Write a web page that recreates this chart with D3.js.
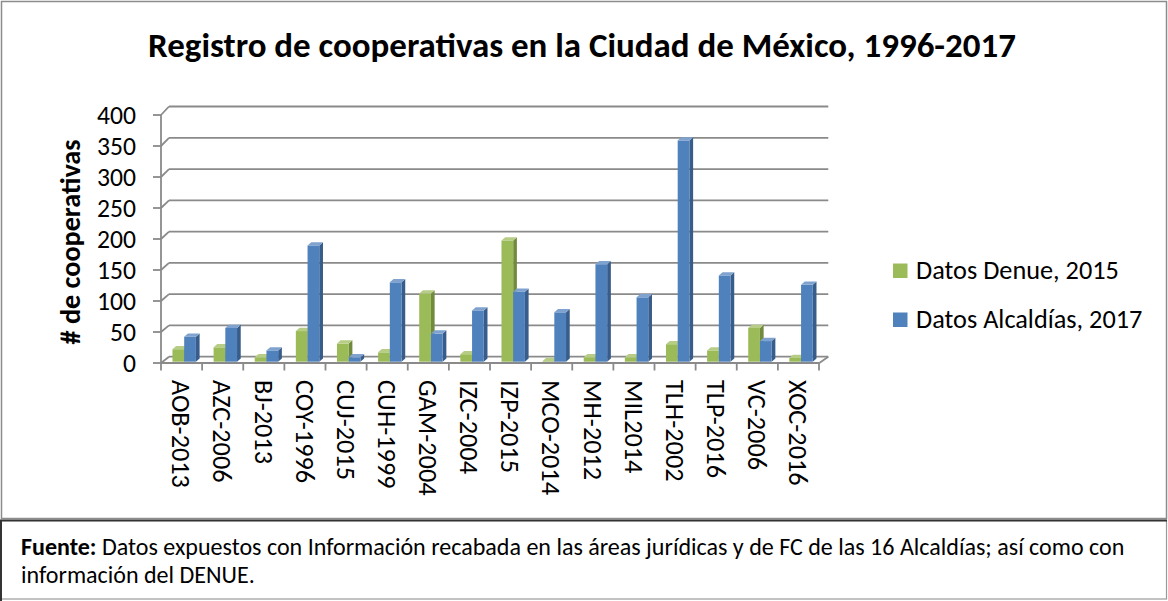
<!DOCTYPE html>
<html>
<head>
<meta charset="utf-8">
<script src="https://cdn.jsdelivr.net/npm/d3@7"></script>
<style>
  body { margin: 0; background: #fff; }
  svg { display: block; font-family: Carlito, Calibri, Lato, sans-serif; }
</style>
</head>
<body>
<svg id="chart" width="1168" height="601"></svg>
<script>
// ---------------------------------------------------------------
// data
// ---------------------------------------------------------------
const categories = ["AOB-2013", "AZC-2006", "BJ-2013", "COY-1996", "CUJ-2015", "CUH-1999",
  "GAM-2004", "IZC-2004", "IZP-2015", "MCO-2014", "MH-2012", "MIL2014",
  "TLH-2002", "TLP-2016", "VC-2006", "XOC-2016"];
const datosDenue = [20, 23, 7, 49, 29, 15, 109, 12, 194, 1, 7, 7, 28, 18, 54, 6];
const datosAlcaldias = [40, 54, 18, 186, 7, 127, 45, 82, 112, 79, 156, 103, 354, 138, 33, 123];
const seriesNames = ["Datos Denue, 2015", "Datos Alcaldías, 2017"];
const yTicks = [0, 50, 100, 150, 200, 250, 300, 350, 400];

const titleText = "Registro de cooperativas en la Ciudad de México, 1996-2017";
const yTitle = "# de cooperativas";
const footerLine1 = "Datos expuestos con Información recabada en las áreas jurídicas y de FC de las 16 Alcaldías; así como con";
const footerLine2 = "información del DENUE.";

// colours: front, side, top
const palette = [
  { front: "#9bbb59", side: "#718a3e", top: "#b7cd86" },
  { front: "#4f81bd", side: "#385d8a", top: "#7fa2cf" }
];

const svg = d3.select("#chart");

// fit text to a target width by adjusting font size
function fitSize(sel, target) {
  const len = sel.node().getComputedTextLength();
  const fs = parseFloat(sel.attr("font-size"));
  return fs * target / len;
}

// ---------------------------------------------------------------
// frames
// ---------------------------------------------------------------
svg.append("rect")
  .attr("x", 1.5).attr("y", 1.5).attr("width", 1165).attr("height", 517)
  .attr("fill", "#fff").attr("stroke", "#8c8c8c").attr("stroke-width", 1.5);

svg.append("rect")
  .attr("x", 1).attr("y", 520.5).attr("width", 1165.5).attr("height", 78.5)
  .attr("fill", "#fff").attr("stroke", "#9a9a9a").attr("stroke-width", 1.2);
svg.append("line").attr("x1", 0).attr("x2", 1167).attr("y1", 520.5).attr("y2", 520.5)
  .attr("stroke", "#333").attr("stroke-width", 2);
svg.append("line").attr("x1", 1).attr("x2", 1).attr("y1", 520).attr("y2", 601)
  .attr("stroke", "#333").attr("stroke-width", 2);

// ---------------------------------------------------------------
// scales
// ---------------------------------------------------------------
const x = d3.scaleBand().domain(categories).range([161, 819]);
const yFront = d3.scaleLinear().domain([0, 400]).range([363, 115]);
const yBack = d3.scaleLinear().domain([0, 400]).range([356.7, 106.5]);
const yBar = d3.scaleLinear().domain([0, 400]).range([361.7, 111.7]);
const DX = 8;          // wall depth
const BAR_SHIFT = 1.6; // bars sit a little behind the front plane
const BDX = 3.7, BDY = -3.3; // bar depth
const inner = d3.scaleBand().domain([0, 1])
  .range([x.bandwidth() * 0.24, x.bandwidth() * 0.81]);

const grid = svg.append("g");
const gridColor = "#8a8a8a";

// back wall gridlines + side wall diagonals
yTicks.forEach(v => {
  grid.append("line")
    .attr("x1", 161 + DX).attr("x2", 828.3)
    .attr("y1", yBack(v)).attr("y2", yBack(v))
    .attr("stroke", gridColor).attr("stroke-width", 1.8);
  grid.append("line")
    .attr("x1", 161).attr("x2", 161 + DX)
    .attr("y1", yFront(v)).attr("y2", yBack(v))
    .attr("stroke", gridColor).attr("stroke-width", 1.8);
  // tick
  grid.append("line")
    .attr("x1", 153).attr("x2", 161)
    .attr("y1", yFront(v)).attr("y2", yFront(v))
    .attr("stroke", gridColor).attr("stroke-width", 1.8);
});

// floor front edge & right diagonal
grid.append("line").attr("x1", 161).attr("x2", 819.3).attr("y1", 363).attr("y2", 363)
  .attr("stroke", gridColor).attr("stroke-width", 1.8);
grid.append("line").attr("x1", 819.3).attr("x2", 828.3).attr("y1", 363).attr("y2", 356.7)
  .attr("stroke", gridColor).attr("stroke-width", 1.8);
// front vertical axis
grid.append("line").attr("x1", 161).attr("x2", 161).attr("y1", 115).attr("y2", 363)
  .attr("stroke", gridColor).attr("stroke-width", 1.8);

// category ticks
const tickXs = categories.map(c => x(c)).concat([x.range()[1]]);
grid.selectAll("line.ctick").data(tickXs).enter().append("line")
  .attr("class", "ctick")
  .attr("x1", d => d).attr("x2", d => d).attr("y1", 363).attr("y2", 370.5)
  .attr("stroke", gridColor).attr("stroke-width", 1.8);

// ---------------------------------------------------------------
// bars
// ---------------------------------------------------------------
const series = [datosDenue, datosAlcaldias];
const bars = svg.append("g");
categories.forEach((c, i) => {
  series.forEach((vals, s) => {
    const v = vals[i];
    const x0 = x(c) + inner(s) + BAR_SHIFT;
    const w = inner.bandwidth();
    const y0 = yBar(0), y1 = yBar(v);
    const col = palette[s];
    const g = bars.append("g");
    // side
    g.append("path")
      .attr("d", `M${x0 + w},${y1} L${x0 + w + BDX},${y1 + BDY} L${x0 + w + BDX},${y0 + BDY} L${x0 + w},${y0} Z`)
      .attr("fill", col.side);
    // front
    g.append("rect")
      .attr("x", x0).attr("y", y1).attr("width", w).attr("height", Math.max(0, y0 - y1))
      .attr("fill", col.front);
    // top
    g.append("path")
      .attr("d", `M${x0},${y1} L${x0 + BDX},${y1 + BDY} L${x0 + w + BDX},${y1 + BDY} L${x0 + w},${y1} Z`)
      .attr("fill", col.top);
  });
});

// ---------------------------------------------------------------
// texts
// ---------------------------------------------------------------
const title = svg.append("text")
  .attr("x", 582).attr("y", 57)
  .attr("text-anchor", "middle")
  .attr("font-size", 26).attr("font-weight", 700)
  .attr("fill", "#000")
  .text(titleText);
title.attr("font-size", fitSize(title, 868));

// y tick labels
const yLab = svg.append("g").selectAll("text").data(yTicks).enter().append("text")
  .attr("x", 136).attr("y", d => yFront(d))
  .attr("dy", "0.35em")
  .attr("text-anchor", "end")
  .attr("font-size", 20).attr("fill", "#000")
  .text(d => d);
const tickSize = fitSize(yLab.filter(d => d === 400), 39);
yLab.attr("font-size", tickSize);

// y axis title
const yt = svg.append("text")
  .attr("transform", "translate(70,242) rotate(-90)")
  .attr("text-anchor", "middle").attr("dy", "0.35em")
  .attr("font-size", 20).attr("font-weight", 700).attr("fill", "#000")
  .text(yTitle);
yt.attr("font-size", fitSize(yt, 205));

// category labels
const cLab = svg.append("g").selectAll("text").data(categories).enter().append("text")
  .attr("transform", d => `translate(${x(d) + x.bandwidth() / 2},380) rotate(90)`)
  .attr("dy", "0.35em")
  .attr("text-anchor", "start")
  .attr("font-size", 20).attr("fill", "#000")
  .text(d => d);
const catSize = fitSize(cLab.filter((d, i) => i === 0), 108);
cLab.attr("font-size", catSize);

// legend
const legend = svg.append("g");
const legY = [279, 328];
let legSize = null;
seriesNames.forEach((name, s) => {
  legend.append("rect")
    .attr("x", 893).attr("y", legY[s] - 15.5).attr("width", 14.5).attr("height", 14.5)
    .attr("fill", palette[s].front);
  const t = legend.append("text")
    .attr("x", 916).attr("y", legY[s])
    .attr("font-size", 20).attr("fill", "#000")
    .text(name);
  if (legSize === null) legSize = fitSize(t, 203);
  t.attr("font-size", legSize);
});

// footer
const f1 = svg.append("text")
  .attr("x", 21).attr("y", 555)
  .attr("font-size", 18).attr("fill", "#000");
f1.append("tspan").attr("font-weight", 700).text("Fuente:");
f1.append("tspan").text(" " + footerLine1);
f1.attr("font-size", fitSize(f1, 1104));
svg.append("text")
  .attr("x", 21).attr("y", 582.5)
  .attr("font-size", f1.attr("font-size")).attr("fill", "#000")
  .text(footerLine2);
</script>
</body>
</html>
